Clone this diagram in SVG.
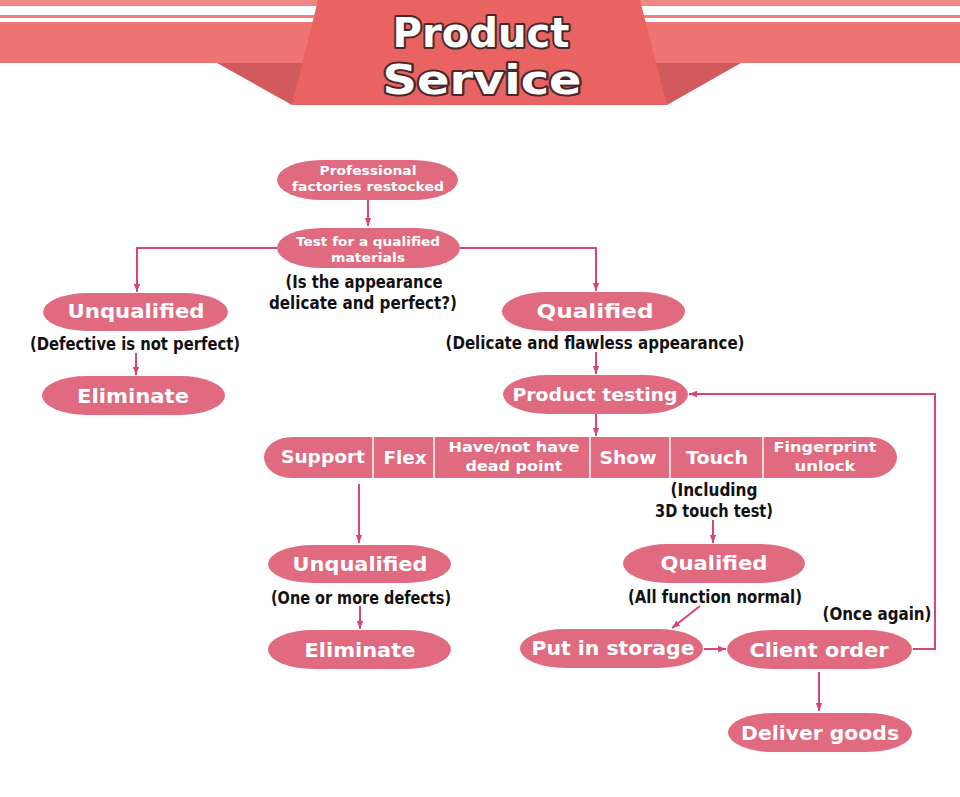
<svg xmlns="http://www.w3.org/2000/svg" width="960" height="797" viewBox="0 0 960 797">
<defs>
<style>
.node{fill:#e06b80}
.nt{font-family:"DejaVu Sans","Liberation Sans",sans-serif;font-weight:bold;fill:#fff;text-anchor:middle}
.lb{font-family:"Liberation Sans Narrow","DejaVu Sans Condensed","Liberation Sans",sans-serif;font-weight:bold;fill:#111;text-anchor:middle;font-size:18px}
.cn{fill:none;stroke:#d84578;stroke-width:2}
.title{font-family:"DejaVu Sans","Liberation Sans",sans-serif;font-weight:bold;fill:#fff;stroke:#4a2828;stroke-width:4;paint-order:stroke;stroke-linejoin:round;text-anchor:middle}
</style>
<marker id="a" viewBox="0 0 10 10" refX="10" refY="5" markerWidth="8" markerHeight="8" orient="auto" markerUnits="userSpaceOnUse">
<path d="M0,1 L10,5 L0,9 z" fill="#d84578"/>
</marker>
</defs>
<rect width="960" height="797" fill="#fff"/>
<g id="header">
<rect x="0" y="0" width="960" height="6" fill="#f08686"/>
<rect x="0" y="15" width="960" height="3" fill="#f07c7c"/>
<rect x="0" y="22" width="960" height="41" fill="#f07474"/>
<polygon points="217,63 312,63 292,105" fill="#d25a5c"/>
<polygon points="741,63 648,63 667,105" fill="#d25a5c"/>
<polygon points="318,0 640,0 667,105 292,105" fill="#ea6363"/>
<text class="title" x="481" y="47" font-size="40" textLength="177" lengthAdjust="spacingAndGlyphs">Product</text>
<text class="title" x="482" y="94" font-size="40" textLength="199" lengthAdjust="spacingAndGlyphs">Service</text>
</g>
<g id="connectors">
<path class="cn" d="M368,200 V226" marker-end="url(#a)"/>
<path class="cn" d="M277,248 H137 V292" marker-end="url(#a)"/>
<path class="cn" d="M460,248 H596 V291" marker-end="url(#a)"/>
<path class="cn" d="M136,353 V375" marker-end="url(#a)"/>
<path class="cn" d="M596,352 V374" marker-end="url(#a)"/>
<path class="cn" d="M596,414 V436" marker-end="url(#a)"/>
<path class="cn" d="M359,484 V543" marker-end="url(#a)"/>
<path class="cn" d="M360,606 V629" marker-end="url(#a)"/>
<path class="cn" d="M713,520 V543" marker-end="url(#a)"/>
<path class="cn" d="M700,606 L672,628" marker-end="url(#a)"/>
<path class="cn" d="M704,649 H726" marker-end="url(#a)"/>
<path class="cn" d="M913,649 H935 V394 H689" marker-end="url(#a)"/>
<path class="cn" d="M819,672 V711" marker-end="url(#a)"/>
</g>
<g id="n1"><rect class="node" x="277" y="160" width="181" height="40" rx="45" ry="20"/>
<text class="nt" x="368" y="175" font-size="13" textLength="97" lengthAdjust="spacingAndGlyphs">Professional</text>
<text class="nt" x="368" y="191" font-size="13" textLength="152" lengthAdjust="spacingAndGlyphs">factories restocked</text></g>
<g id="n2"><rect class="node" x="277" y="228" width="183" height="40" rx="45" ry="20"/>
<text class="nt" x="368" y="246" font-size="13" textLength="144" lengthAdjust="spacingAndGlyphs">Test for a qualified</text>
<text class="nt" x="368" y="262" font-size="13" textLength="74" lengthAdjust="spacingAndGlyphs">materials</text>
<text class="lb" x="364" y="288" textLength="157" lengthAdjust="spacingAndGlyphs">(Is the appearance</text>
<text class="lb" x="363" y="309" textLength="188" lengthAdjust="spacingAndGlyphs">delicate and perfect?)</text></g>
<g id="n3"><rect class="node" x="43" y="293" width="185" height="38" rx="45" ry="19"/>
<text class="nt" x="136" y="318" font-size="19" textLength="137" lengthAdjust="spacingAndGlyphs">Unqualified</text>
<text class="lb" x="135" y="350" textLength="210" lengthAdjust="spacingAndGlyphs">(Defective is not perfect)</text></g>
<g id="n4"><rect class="node" x="42" y="376" width="183" height="39" rx="45" ry="19.5"/>
<text class="nt" x="133" y="403" font-size="19" textLength="112" lengthAdjust="spacingAndGlyphs">Eliminate</text></g>
<g id="n5"><rect class="node" x="502" y="292" width="183" height="39" rx="45" ry="19.5"/>
<text class="nt" x="595" y="318" font-size="19" textLength="117" lengthAdjust="spacingAndGlyphs">Qualified</text>
<text class="lb" x="595" y="349" textLength="299" lengthAdjust="spacingAndGlyphs">(Delicate and flawless appearance)</text></g>
<g id="n6"><rect class="node" x="503" y="375" width="185" height="39" rx="45" ry="19.5"/>
<text class="nt" x="595" y="401" font-size="17" textLength="165" lengthAdjust="spacingAndGlyphs">Product testing</text></g>
<g id="n7"><rect class="node" x="264" y="437" width="633" height="41" rx="28" ry="20.5"/>
<path d="M373,437 V478 M434,437 V478 M590,437 V478 M670,437 V478 M763,437 V478" stroke="#fff" stroke-width="1.5"/>
<text class="nt" x="323" y="463" font-size="17" textLength="84" lengthAdjust="spacingAndGlyphs">Support</text>
<text class="nt" x="405" y="464" font-size="17" textLength="43" lengthAdjust="spacingAndGlyphs">Flex</text>
<text class="nt" x="514" y="452" font-size="14" textLength="131" lengthAdjust="spacingAndGlyphs">Have/not have</text>
<text class="nt" x="514" y="471" font-size="14" textLength="97" lengthAdjust="spacingAndGlyphs">dead point</text>
<text class="nt" x="628" y="464" font-size="17" textLength="57" lengthAdjust="spacingAndGlyphs">Show</text>
<text class="nt" x="717" y="464" font-size="17" textLength="62" lengthAdjust="spacingAndGlyphs">Touch</text>
<text class="nt" x="825" y="452" font-size="14" textLength="103" lengthAdjust="spacingAndGlyphs">Fingerprint</text>
<text class="nt" x="825" y="471" font-size="14" textLength="61" lengthAdjust="spacingAndGlyphs">unlock</text>
<text class="lb" x="714" y="496" textLength="87" lengthAdjust="spacingAndGlyphs">(Including</text>
<text class="lb" x="714" y="517" textLength="118" lengthAdjust="spacingAndGlyphs">3D touch test)</text></g>
<g id="n8"><rect class="node" x="268" y="545" width="183" height="38" rx="45" ry="19"/>
<text class="nt" x="360" y="571" font-size="19" textLength="135" lengthAdjust="spacingAndGlyphs">Unqualified</text>
<text class="lb" x="361" y="604" textLength="180" lengthAdjust="spacingAndGlyphs">(One or more defects)</text></g>
<g id="n9"><rect class="node" x="268" y="630" width="183" height="39" rx="45" ry="19.5"/>
<text class="nt" x="360" y="657" font-size="19" textLength="111" lengthAdjust="spacingAndGlyphs">Eliminate</text></g>
<g id="n10"><rect class="node" x="623" y="544" width="182" height="39" rx="45" ry="19.5"/>
<text class="nt" x="714" y="570" font-size="19" textLength="107" lengthAdjust="spacingAndGlyphs">Qualified</text>
<text class="lb" x="715" y="603" textLength="174" lengthAdjust="spacingAndGlyphs">(All function normal)</text></g>
<g id="n11"><rect class="node" x="520" y="629" width="183" height="39" rx="45" ry="19.5"/>
<text class="nt" x="613" y="655" font-size="19" textLength="163" lengthAdjust="spacingAndGlyphs">Put in storage</text></g>
<g id="n12"><rect class="node" x="727" y="630" width="185" height="39" rx="45" ry="19.5"/>
<text class="nt" x="819" y="657" font-size="19" textLength="139" lengthAdjust="spacingAndGlyphs">Client order</text>
<text class="lb" x="877" y="620" textLength="109" lengthAdjust="spacingAndGlyphs">(Once again)</text></g>
<g id="n13"><rect class="node" x="728" y="713" width="184" height="39" rx="45" ry="19.5"/>
<text class="nt" x="820" y="740" font-size="19" textLength="158" lengthAdjust="spacingAndGlyphs">Deliver goods</text></g>
</svg>
